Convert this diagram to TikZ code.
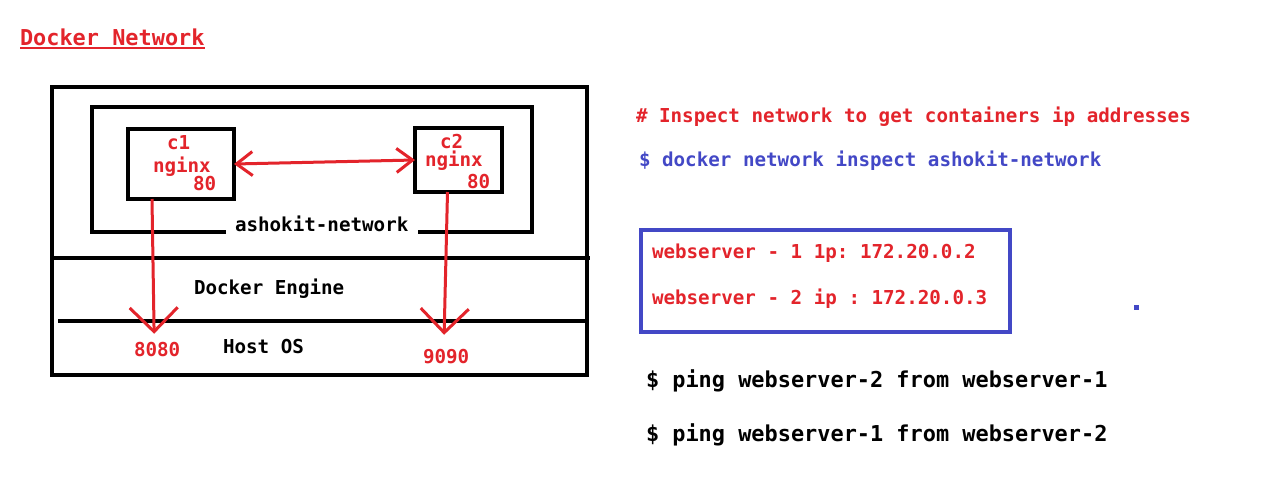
\documentclass[tikz,border=0pt]{standalone}
\usepackage{fontspec}
\setmonofont{DejaVu Sans Mono}
\usetikzlibrary{positioning}
\usetikzlibrary{calc}
\usetikzlibrary{arrows.meta}
\definecolor{inkred}{RGB}{227,36,43}
\definecolor{inkblue}{RGB}{67,72,198}
\tikzset{
	every node/.style={inner sep=0pt, outer sep=0pt},
	txt/.style={anchor=base west, font=\ttfamily\bfseries\fontsize{19.2}{23}\selectfont},
	bigtxt/.style={anchor=base west, font=\ttfamily\bfseries\fontsize{21.9}{26}\selectfont},
	frame/.style={draw, line width=4pt},
	link/.style={inkred, line width=3pt, {Straight Barb[length=16pt,width=24pt]}-{Straight Barb[length=16pt,width=24pt]}},
	portmap/.style={inkred, line width=3pt, -{Straight Barb[length=24pt,width=48pt]}}
}

\begin{document}
\begin{tikzpicture}[x=1pt, y=-1pt]
	\fill[white] (0,0) rectangle (1280,485);
	\useasboundingbox (0,0) rectangle (1280,485);
	
	% Title
	\node (title) [bigtxt, inkred] at (20,45) {Docker Network};
	\draw[inkred, line width=2pt] ([yshift=-3pt]title.base west) -- ([yshift=-3pt]title.base east);
	
	% Host, engine and network
	\node (host) [frame, minimum width=535pt, minimum height=288pt] at (319.5,231) {};
	\draw[frame] (host.west |- 0,258) -- ([xshift=3pt]host.east |- 0,258);
	\draw[frame] ([xshift=6pt]host.west |- 0,321) -- (host.east |- 0,321);
	\node (net) [minimum width=440pt, minimum height=125pt] at (312,169.5) {};
	\node (netlabel) [txt] at (235,231) {ashokit-network};
	\draw[frame] ([xshift=-9pt]netlabel.west |- net.south) -| (net.north west) -| (net.south east) -- ([xshift=10pt]netlabel.east |- net.south);
	\node (engine) [txt] at (194,294) {Docker Engine};
	\node (hostos) [txt] at (223,353) {Host OS};
	
	% Containers
	\node (c1) [frame, minimum width=106pt, minimum height=70pt] at (181,164) {};
	\node (c1name) [txt, inkred] at (167,149) {c1};
	\node (c1img) [txt, inkred] at (153,172) {nginx};
	\node (c1port) [txt, inkred] at (193,190) {80};
	\node (c2) [frame, minimum width=87pt, minimum height=64pt] at (458.5,160) {};
	\node (c2name) [txt, inkred] at (440,148) {c2};
	\node (c2img) [txt, inkred] at (425,166) {nginx};
	\node (c2port) [txt, inkred] at (467,188) {80};
	
	% Host ports
	\node (p8080) [txt, inkred] at (134,356) {8080};
	\node (p9090) [txt, inkred] at (423,363) {9090};
	
	\path[link] (c1.east) edge (c2.west);
	\path[portmap] ([xshift=-29pt]c1.south) edge ([xshift=-3pt, yshift=8pt]p8080.north);
	\path[portmap] ([xshift=-11pt]c2.south) edge ([xshift=-2pt, yshift=14pt]p9090.north);
	
	% Commands
	\node (comment) [txt, inkred] at (636,122) {\# Inspect network to get containers ip addresses};
	\node (inspect) [txt, inkblue] at (639,166) {\$ docker network inspect ashokit-network};
	\node (ipbox) [frame, draw=inkblue, minimum width=369pt, minimum height=102pt] at (825.5,281) {};
	\node (ip1) [txt, inkred] at (652,258) {webserver - 1 1p: 172.20.0.2};
	\node (ip2) [txt, inkred] at (652,304) {webserver - 2 ip : 172.20.0.3};
	\fill[inkblue] (1134,305) rectangle (1139,310);
	\node (ping1) [bigtxt] at (646,387) {\$ ping webserver-2 from webserver-1};
	\node (ping2) [bigtxt] at (646,441) {\$ ping webserver-1 from webserver-2};
	
\end{tikzpicture}
\end{document}
